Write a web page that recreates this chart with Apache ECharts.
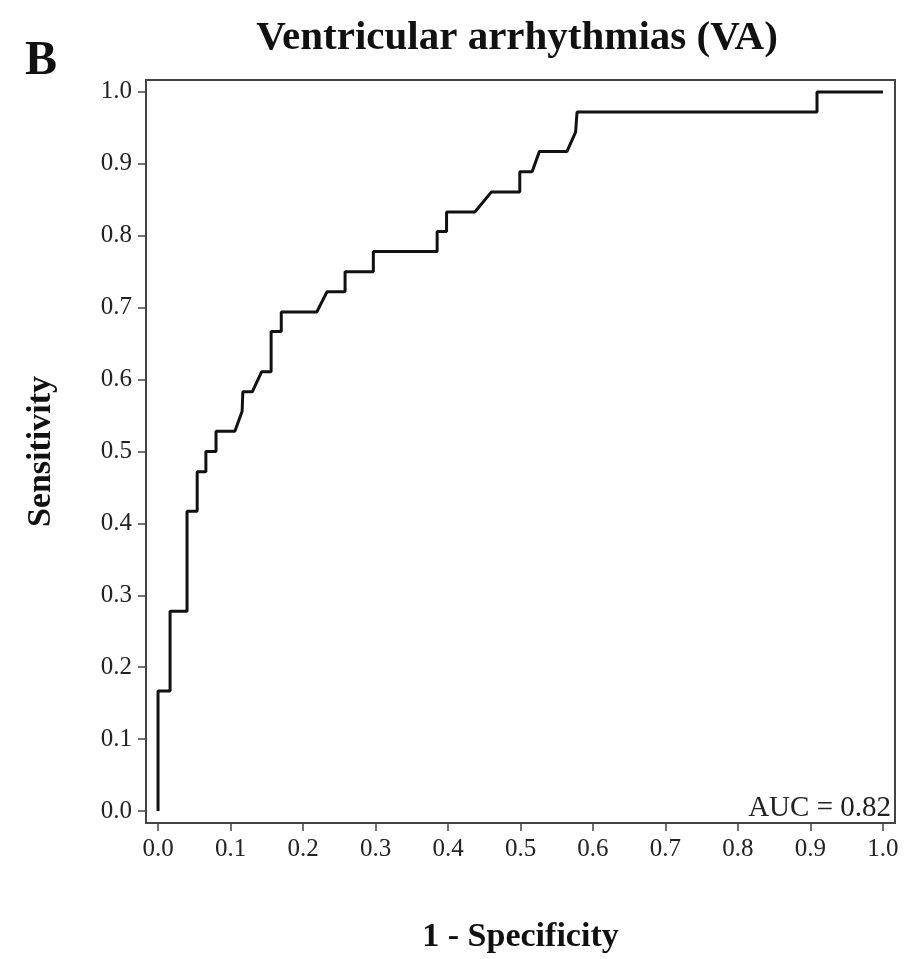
<!DOCTYPE html>
<html>
<head>
<meta charset="utf-8">
<script src="https://cdn.jsdelivr.net/npm/echarts@6/dist/echarts.min.js"></script>
<style>html,body{margin:0;padding:0;background:#fff}#c{width:911px;height:959px}</style>
</head>
<body>
<div id="c"></div>
<script>
// ROC curve points
const fpr = [0, 0, 0.0166, 0.0166, 0.040, 0.040, 0.054, 0.054, 0.066, 0.066, 0.080, 0.080, 0.106, 0.116, 0.117, 0.130, 0.143, 0.156, 0.156, 0.170, 0.170, 0.219, 0.233, 0.258, 0.258, 0.297, 0.297, 0.385, 0.385, 0.398, 0.398, 0.437, 0.460, 0.499, 0.499, 0.516, 0.526, 0.564, 0.576, 0.578, 0.909, 0.909, 1.0];
const tpr = [0, 0.167, 0.167, 0.278, 0.278, 0.417, 0.417, 0.472, 0.472, 0.500, 0.500, 0.528, 0.528, 0.556, 0.583, 0.583, 0.611, 0.611, 0.667, 0.667, 0.694, 0.694, 0.722, 0.722, 0.750, 0.750, 0.778, 0.778, 0.806, 0.806, 0.833, 0.833, 0.861, 0.861, 0.889, 0.889, 0.917, 0.917, 0.944, 0.972, 0.972, 1.0, 1.0];
const xTicks = [0, 0.1, 0.2, 0.3, 0.4, 0.5, 0.6, 0.7, 0.8, 0.9, 1.0];
const yTicks = [0, 0.1, 0.2, 0.3, 0.4, 0.5, 0.6, 0.7, 0.8, 0.9, 1.0];
const titleText = 'Ventricular arrhythmias (VA)';
const panelLabel = 'B';
const xName = '1 - Specificity';
const yName = 'Sensitivity';
const aucText = 'AUC = 0.82';

const serif = "'Liberation Serif', 'Times New Roman', serif";
const pad = 0.0166;
const chart = echarts.init(document.getElementById('c'));
function axis(ticks) {
  return {
    type: 'value', min: -pad, max: 1 + pad,
    splitLine: { show: false },
    axisLine: { show: true, onZero: false, lineStyle: { color: '#444', width: 2 } },
    axisTick: { show: true, length: 8, customValues: ticks, lineStyle: { color: '#444', width: 1.5 } },
    axisLabel: { color: '#222', fontFamily: serif, fontSize: 25, margin: 14,
      customValues: ticks, formatter: v => v.toFixed(1) }
  };
}
chart.setOption({
  animation: false,
  backgroundColor: '#fff',
  title: {
    text: titleText, left: 512, top: 13, textAlign: 'center',
    textStyle: { fontFamily: serif, fontWeight: 'bold', fontSize: 41, color: '#111' }
  },
  grid: { left: 146, right: 16, top: 80, bottom: 129, show: true,
    borderColor: '#444', borderWidth: 2, backgroundColor: 'transparent' },
  xAxis: Object.assign(axis(xTicks), {
    position: 'bottom',
    name: xName, nameLocation: 'middle', nameGap: 97,
    nameTextStyle: { fontFamily: serif, fontWeight: 'bold', fontSize: 34, color: '#111' }
  }),
  yAxis: Object.assign(axis(yTicks), {
    position: 'left',
    name: yName, nameLocation: 'middle', nameGap: 88, nameRotate: 90,
    nameTextStyle: { fontFamily: serif, fontWeight: 'bold', fontSize: 34, color: '#111' }
  }),
  graphic: [
    { type: 'text', left: 25, top: 38,
      style: { text: panelLabel, fontFamily: serif, fontWeight: 'bold', fontSize: 48, fill: '#111' } },
    { type: 'text', right: 20, top: 794,
      style: { text: aucText, fontFamily: serif, fontSize: 29, fill: '#222' } }
  ],
  series: [{
    type: 'line',
    data: fpr.map((x, i) => [x, tpr[i]]),
    showSymbol: false,
    lineStyle: { color: '#111', width: 3 }
  }]
});
</script>
</body>
</html>
